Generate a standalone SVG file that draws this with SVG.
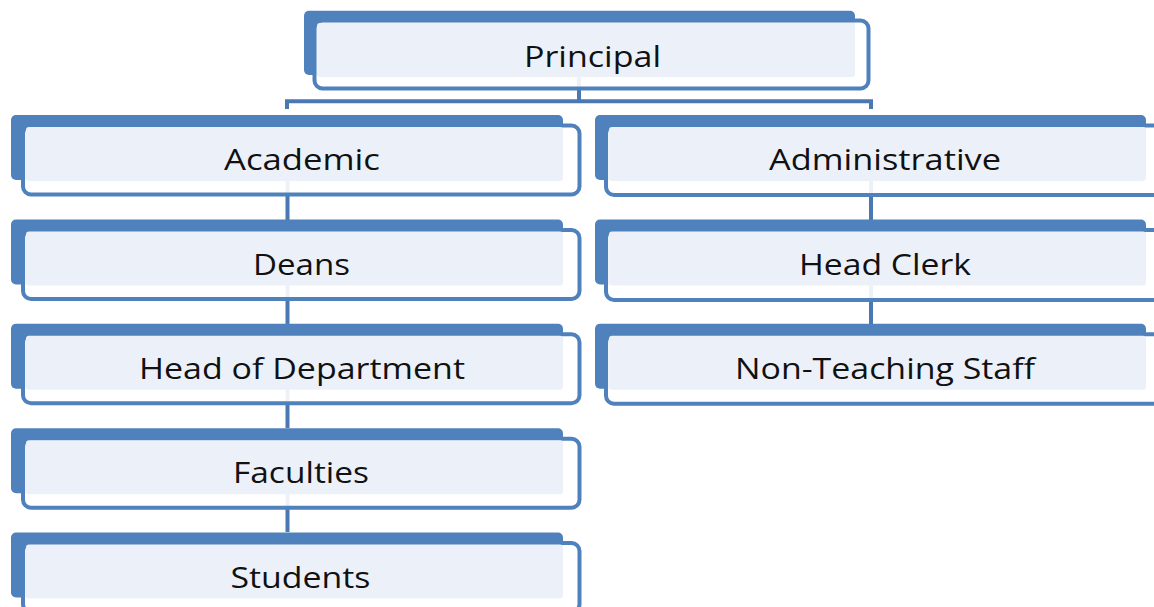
<svg xmlns="http://www.w3.org/2000/svg" width="1154" height="607" viewBox="0 0 1154 607">
<style>
.back{fill:#4F81BD}
.front{fill:#FFFFFF;fill-opacity:0.9;stroke:#4F81BD;stroke-width:4}
.light{fill:#ECF1F9}
.lbl{font-family:"Open Sans","Noto Sans",sans-serif;font-size:30px;fill:#111111;text-anchor:middle}
.conn{stroke:#4A78B2;stroke-width:4;fill:none}
</style>
<rect width="1154" height="607" fill="#FFFFFF"/>
<g id="connectors">
<path class="conn" d="M579 76 V101.3 M287 109 V101.3 H871 V109"/>
<path class="conn" d="M287.5 180 V220 M287.5 284 V324 M287.5 389 V428 M287.5 493 V532"/>
<path class="conn" d="M871 180 V220 M871 284 V324"/>
</g>
<g id="principal">
<rect class="back" x="304" y="10.7" width="551" height="64.3" rx="5"/>
<rect class="front" x="314.5" y="20.5" width="554" height="68" rx="8"/>
<rect class="light" x="317" y="23" width="538" height="54" rx="3"/>
<text class="lbl" x="592.5" y="66.5" textLength="137" lengthAdjust="spacingAndGlyphs">Principal</text>
</g>
<g id="academic">
<rect class="back" x="11" y="115" width="552" height="65" rx="5"/>
<rect class="front" x="23" y="125.5" width="556.5" height="69" rx="8"/>
<rect class="light" x="26" y="127" width="537" height="54" rx="3"/>
<text class="lbl" x="302" y="170" textLength="156" lengthAdjust="spacingAndGlyphs">Academic</text>
</g>
<g id="deans">
<rect class="back" x="11" y="219.5" width="552" height="65" rx="5"/>
<rect class="front" x="23" y="230" width="556.5" height="69" rx="8"/>
<rect class="light" x="26" y="231.5" width="537" height="54" rx="3"/>
<text class="lbl" x="301.5" y="274.5" textLength="97" lengthAdjust="spacingAndGlyphs">Deans</text>
</g>
<g id="head-of-department">
<rect class="back" x="11" y="323.8" width="552" height="65" rx="5"/>
<rect class="front" x="23" y="334.3" width="556.5" height="69" rx="8"/>
<rect class="light" x="26" y="335.8" width="537" height="54" rx="3"/>
<text class="lbl" x="302" y="378.5" textLength="326" lengthAdjust="spacingAndGlyphs">Head of Department</text>
</g>
<g id="faculties">
<rect class="back" x="11" y="428.2" width="552" height="65" rx="5"/>
<rect class="front" x="23" y="438.7" width="556.5" height="69" rx="8"/>
<rect class="light" x="26" y="440.2" width="537" height="54" rx="3"/>
<text class="lbl" x="301" y="483" textLength="136" lengthAdjust="spacingAndGlyphs">Faculties</text>
</g>
<g id="students">
<rect class="back" x="11" y="532.5" width="552" height="65" rx="5"/>
<rect class="front" x="23" y="543" width="556.5" height="69" rx="8"/>
<rect class="light" x="26" y="544.5" width="537" height="54" rx="3"/>
<text class="lbl" x="300.5" y="587.5" textLength="140" lengthAdjust="spacingAndGlyphs">Students</text>
</g>
<g id="administrative">
<rect class="back" x="595" y="115" width="551" height="65" rx="5"/>
<rect class="front" x="606" y="125.5" width="556" height="69.5" rx="8"/>
<rect class="light" x="609" y="127" width="537" height="54" rx="3"/>
<text class="lbl" x="885" y="170" textLength="232" lengthAdjust="spacingAndGlyphs">Administrative</text>
</g>
<g id="head-clerk">
<rect class="back" x="595" y="219.5" width="551" height="65" rx="5"/>
<rect class="front" x="606" y="230" width="556" height="70" rx="8"/>
<rect class="light" x="609" y="231.5" width="537" height="54" rx="3"/>
<text class="lbl" x="885" y="274.5" textLength="172" lengthAdjust="spacingAndGlyphs">Head Clerk</text>
</g>
<g id="non-teaching-staff">
<rect class="back" x="595" y="323.8" width="551" height="65" rx="5"/>
<rect class="front" x="606" y="334.3" width="556" height="69.5" rx="8"/>
<rect class="light" x="609" y="335.8" width="537" height="54" rx="3"/>
<text class="lbl" x="885" y="378.5" textLength="300" lengthAdjust="spacingAndGlyphs">Non-Teaching Staff</text>
</g>
</svg>
